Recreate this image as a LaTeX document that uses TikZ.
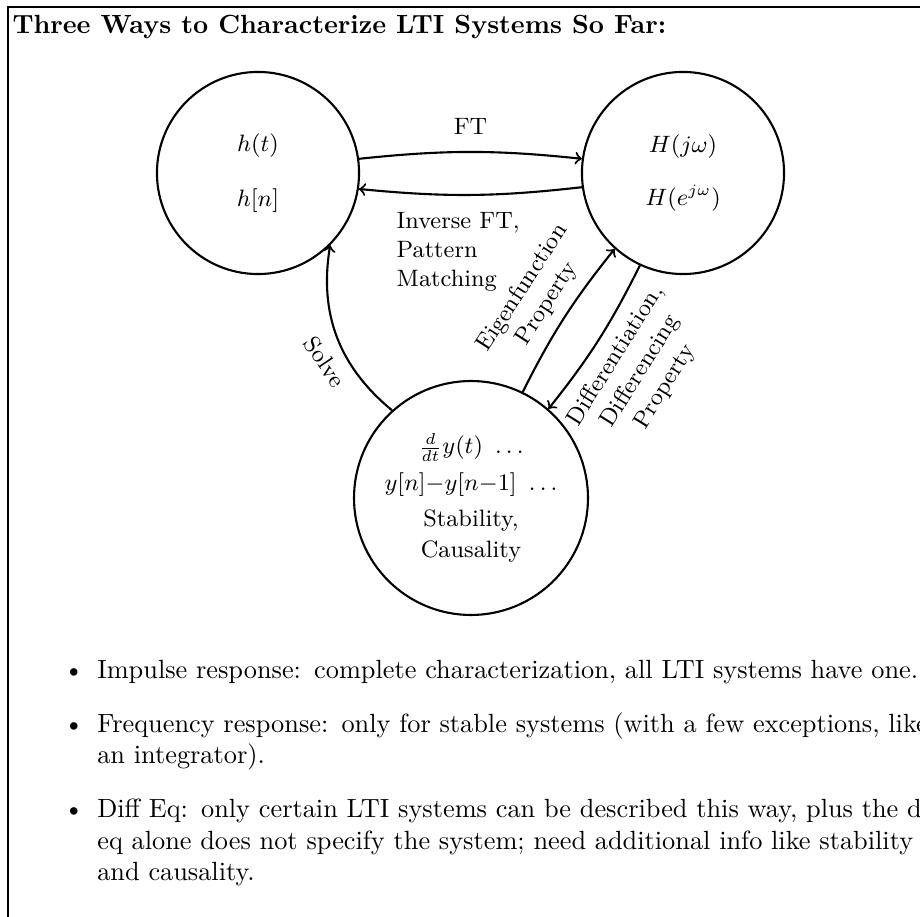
\documentclass[tikz,border=0pt]{standalone}
\usepackage{amsmath}
\usetikzlibrary{arrows,positioning}
\usetikzlibrary{arrows.meta}

\begin{document}
\begin{tikzpicture}[x=0.38pt,y=0.38pt,yscale=-1,xscale=1,
	repcirc/.style={draw, circle, thick, align=center, inner sep=0pt, font=\small},
	conv/.style={->, >=to, thick},
	convlbl/.style={font=\small, align=center}]
	%set diagram to the page size
	\useasboundingbox (0,0) rectangle (920,917);
	\clip (0,0) rectangle (920,917);
	
	%Shape: Frame
	\draw [line width=0.8pt] (8,7) rectangle (1000,1000);
	% Text Node
	\node [anchor=north west, inner sep=0pt, font=\bfseries] (title) at (12,15) {Three Ways to Characterize LTI Systems So Far:};
	
	%Shape: Circle
	\node [repcirc, minimum size=76.8pt] (imp) at (258,173) {$h(t)$\\[10pt]$h[n]$};
	%Shape: Circle
	\node [repcirc, minimum size=76.8pt] (freq) at (683,173) {$H(j\omega)$\\[9pt]$H(e^{j\omega})$};
	%Shape: Circle
	\node [repcirc, minimum size=88.9pt] (deq) at (471,498) {$\frac{d}{dt}y(t)\ \ldots$\\[3pt]$y[n]{-}y[n{-}1]\ \ldots$\\[2.5pt]Stability,\\[1pt]Causality};
	
	%Curve Lines
	\draw [conv] (imp.8) to [bend right=6] node [convlbl, above=3pt] (ft) {FT} (freq.172);
	%Curve Lines
	\draw [conv] (freq.188) to [bend right=6] node [convlbl, pos=0.56, below=3pt, align=left] (ift) {Inverse FT,\\Pattern\\Matching} (imp.351);
	%Curve Lines
	\draw [conv] (deq.64) to [bend right=6] node [convlbl, rotate=57, above=1pt] (eig) {Eigenfunction\\Property} (freq.228);
	%Curve Lines
	\draw [conv] (freq.245) to [bend right=6] node [convlbl, rotate=58, below=2pt] (dif) {Differentiation,\\Differencing\\Property} (deq.49);
	%Curve Lines
	\draw [conv] (deq.132) to [bend right=30] node [convlbl, pos=0.45, rotate=-56, below=2.5pt] (slv) {Solve} (imp.315);
	
	% Text Node
	\node [anchor=north west, inner sep=0pt, text width=400pt] (notes) at (31,625) {%
		\begin{itemize}\setlength{\itemsep}{4.5pt}
			\item Impulse response: complete characterization, all LTI systems have one.
			\item Frequency response: only for stable systems (with a few exceptions, like\newline an integrator).
			\item Diff Eq: only certain LTI systems can be described this way, plus the diff\newline \makebox[320pt][s]{eq alone does not specify the system; need additional info like stability}\newline and causality.
		\end{itemize}};
\end{tikzpicture}
\end{document}
